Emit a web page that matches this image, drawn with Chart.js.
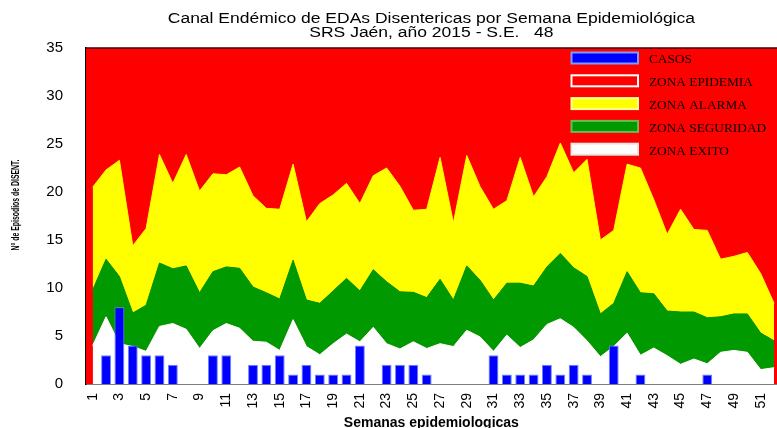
<!DOCTYPE html>
<html>
<head>
<meta charset="utf-8">
<script src="https://cdn.jsdelivr.net/npm/chart.js@4"></script>
<style>
    html, body { margin: 0; padding: 0; background: #fff; overflow: hidden; }
    #wrap { width: 777px; height: 428px; overflow: hidden; }
</style>
</head>
<body>
<div id="wrap"><canvas id="canalChart" width="800" height="428"></canvas></div>
<script>
    // Semanas epidemiologicas
    const semanas = ['1','2','3','4','5','6','7','8','9','10','11','12','13','14','15','16','17','18',
        '19','20','21','22','23','24','25','26','27','28','29','30','31','32','33','34','35','36',
        '37','38','39','40','41','42','43','44','45','46','47','48','49','50','51','52'];

    // Casos 2015
    const casos = [0, 3, 8, 4, 3, 3, 2, 0, 0, 3, 3, 0, 2, 2, 3, 1, 2, 1, 1, 1, 4, 0, 2, 2, 2, 1,
        0, 0, 0, 0, 3, 1, 1, 1, 2, 1, 2, 1, 0, 4, 0, 1, 0, 0, 0, 0, 1, 0, 0, 0, 0, 0];

    // Limites superiores de cada zona
    const zonaExito = [4.0, 7.0, 4.2, 3.9, 3.4, 6.0, 6.3, 5.7, 3.7, 5.55, 6.3, 5.8, 4.45, 4.35, 3.5, 6.7,
        3.9, 3.05, 4.2, 5.2, 4.4, 5.9, 4.2, 3.65, 4.4, 3.7, 4.2, 3.9, 5.6, 4.9, 3.4, 5.1, 3.8, 4.6,
        6.2, 6.8, 5.9, 4.5, 2.85, 3.9, 5.3, 3.0, 3.75, 2.95, 2.05, 2.6, 2.1, 3.3, 3.5, 3.3, 1.5, 1.7];
    const zonaSeguridad = [9.8, 13.0, 11.2, 7.4, 8.2, 12.6, 12.0, 12.3, 9.5, 11.7, 12.2, 12.05, 10.1, 9.5,
        8.85, 12.9, 8.75, 8.4, 9.7, 11.0, 9.7, 11.9, 10.65, 9.6, 9.55, 9.0, 10.9, 8.75, 12.3, 10.8,
        8.75, 10.5, 10.5, 10.2, 12.2, 13.6, 12.1, 11.2, 7.3, 8.4, 11.7, 9.5, 9.4, 7.6, 7.5, 7.5,
        6.9, 7.0, 7.3, 7.3, 5.3, 4.5];
    const zonaAlarma = [20.5, 22.3, 23.3, 14.4, 16.2, 23.9, 20.9, 23.9, 20.1, 21.9, 21.8, 22.6, 19.6,
        18.3, 18.2, 22.9, 16.9, 18.8, 19.7, 20.9, 18.8, 21.7, 22.5, 20.6, 18.1, 18.2, 23.6, 16.8,
        23.8, 20.55, 18.2, 19.1, 23.6, 19.5, 21.6, 25.1, 22.0, 23.4, 15.0, 16.0, 22.9, 22.5, 19.2,
        15.6, 18.2, 16.1, 16.0, 13.0, 13.3, 13.7, 11.5, 8.4];

    const yTicks = [0, 5, 10, 15, 20, 25, 30, 35];

    const titleLines = ['Canal Endémico de EDAs Disentericas por Semana Epidemiológica',
        'SRS Jaén, año 2015 - S.E.   48'];
    const yTitle = 'N° de Episodios de DISENT.';
    const xTitle = 'Semanas epidemiologicas';

    const sansFont = '"Liberation Sans", Arial, sans-serif';

    /**
     * Red plot background and top frame line
     */
    const plotBackground = {
        id: 'plotBackground',
        beforeDatasetsDraw(chart) {
            const { ctx, chartArea } = chart;
            ctx.save();
            ctx.fillStyle = '#ff0000';
            ctx.fillRect(chartArea.left, chartArea.top, chartArea.right - chartArea.left, chartArea.bottom - chartArea.top);
            ctx.restore();
        },
        afterDraw(chart) {
            const { ctx, chartArea } = chart;
            ctx.save();
            ctx.strokeStyle = '#400000';
            ctx.lineWidth = 1.5;
            ctx.beginPath();
            ctx.moveTo(chartArea.left, chartArea.top);
            ctx.lineTo(chartArea.right, chartArea.top);
            ctx.stroke();
            ctx.restore();
        }
    };

    /**
     * Titles drawn with a horizontal stretch, like the original export
     */
    const stretchedTitles = {
        id: 'stretchedTitles',
        afterDraw(chart) {
            const { ctx, chartArea } = chart;
            const cx = (chartArea.left + chartArea.right) / 2 - 2;
            ctx.save();
            ctx.fillStyle = '#000';
            ctx.textAlign = 'center';
            ctx.textBaseline = 'middle';

            // main title
            ctx.font = '14px ' + sansFont;
            titleLines.forEach((line, i) => {
                ctx.save();
                ctx.translate(cx, 19 + i * 14);
                ctx.scale(1.25, 1);
                ctx.fillText(line, 0, 0);
                ctx.restore();
            });

            // y axis title, narrow and bold
            ctx.save();
            ctx.translate(16, 205);
            ctx.rotate(-Math.PI / 2);
            ctx.scale(0.6, 1);
            ctx.font = 'bold 11.5px ' + sansFont;
            ctx.fillText(yTitle, 0, 0);
            ctx.restore();

            // x axis title
            ctx.font = 'bold 14px ' + sansFont;
            ctx.fillText(xTitle, cx, 423);
            ctx.restore();
        }
    };

    /**
     * Legend drawn inside the plot, top right
     */
    const zoneLegend = {
        id: 'zoneLegend',
        afterDraw(chart, args, opts) {
            const { ctx } = chart;
            const sets = chart.data.datasets;
            ctx.save();
            opts.order.forEach((idx, i) => {
                const ds = sets[idx];
                const y = opts.top + i * opts.step;
                ctx.fillStyle = ds.legendBorder;
                ctx.fillRect(opts.left, y, opts.boxWidth, opts.boxHeight);
                ctx.fillStyle = ds.backgroundColor;
                ctx.fillRect(opts.left + 2, y + 2, opts.boxWidth - 4, opts.boxHeight - 4);
                ctx.fillStyle = '#000';
                ctx.font = '13.3px "Liberation Serif", "Times New Roman", serif';
                ctx.textBaseline = 'middle';
                ctx.fillText(ds.label, opts.left + opts.boxWidth + 10, y + opts.boxHeight / 2 + 2);
            });
            ctx.restore();
        }
    };

    const ctx = document.getElementById('canalChart').getContext('2d');
    new Chart(ctx, {
        type: 'bar',
        data: {
            labels: semanas,
            datasets: [
                {
                    type: 'line',
                    label: 'ZONA EXITO',
                    data: zonaExito,
                    backgroundColor: '#ffffff',
                    borderColor: '#ffffff',
                    legendBorder: '#e6e6e6',
                    borderWidth: 1,
                    pointRadius: 0,
                    tension: 0,
                    fill: 'origin',
                    order: 2
                },
                {
                    type: 'line',
                    label: 'ZONA SEGURIDAD',
                    data: zonaSeguridad,
                    backgroundColor: '#009900',
                    borderColor: '#009900',
                    legendBorder: '#66bb55',
                    borderWidth: 1,
                    pointRadius: 0,
                    tension: 0,
                    fill: '-1',
                    order: 2
                },
                {
                    type: 'line',
                    label: 'ZONA ALARMA',
                    data: zonaAlarma,
                    backgroundColor: '#ffff00',
                    borderColor: '#ffff00',
                    legendBorder: '#ffff99',
                    borderWidth: 1,
                    pointRadius: 0,
                    tension: 0,
                    fill: '-1',
                    order: 2
                },
                {
                    type: 'line',
                    label: 'ZONA EPIDEMIA',
                    data: zonaAlarma,
                    backgroundColor: '#ff0000',
                    borderColor: 'rgba(0,0,0,0)',
                    legendBorder: '#ffffff',
                    borderWidth: 0,
                    pointRadius: 0,
                    tension: 0,
                    fill: 'end',
                    order: 3
                },
                {
                    label: 'CASOS',
                    data: casos,
                    backgroundColor: '#0000ff',
                    borderColor: '#6f86ff',
                    legendBorder: '#7f9cf5',
                    borderWidth: 1,
                    borderSkipped: 'bottom',
                    categoryPercentage: 1,
                    barPercentage: 0.74,
                    order: 0
                }
            ]
        },
        options: {
            responsive: false,
            animation: false,
            layout: { padding: { left: 0, right: 14, top: 48, bottom: 0 } },
            plugins: {
                legend: { display: false },
                tooltip: { enabled: false },
                title: { display: false },
                zoneLegend: {
                    order: [4, 3, 2, 1, 0],
                    left: 570.5,
                    top: 51.5,
                    step: 22.8,
                    boxWidth: 68.5,
                    boxHeight: 13
                }
            },
            scales: {
                x: {
                    offset: true,
                    grid: { display: false, drawTicks: false },
                    border: { display: true, color: '#000', width: 1.5 },
                    ticks: {
                        autoSkip: false,
                        minRotation: 90,
                        maxRotation: 90,
                        padding: 9,
                        color: '#000',
                        font: { family: sansFont, size: 14 },
                        callback: function(value, index) {
                            return index % 2 === 0 ? semanas[index] : '';
                        }
                    },
                    afterFit: function(scale) { scale.height = 44; }
                },
                y: {
                    min: 0,
                    max: 35,
                    grid: { display: false, drawTicks: false },
                    border: { display: true, color: '#000', width: 1.5 },
                    afterBuildTicks: function(scale) {
                        scale.ticks = yTicks.map(v => ({ value: v }));
                    },
                    ticks: {
                        padding: 23,
                        color: '#000',
                        font: { family: sansFont, size: 15 }
                    },
                    afterFit: function(scale) { scale.width = 86; }
                }
            }
        },
        plugins: [plotBackground, stretchedTitles, zoneLegend]
    });
</script>
</body>
</html>
